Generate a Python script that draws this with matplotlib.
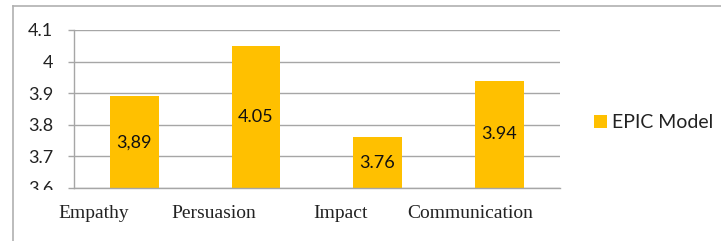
#!/usr/bin/python
import matplotlib
matplotlib.use('Agg')
import matplotlib.pyplot as plt
from matplotlib.patches import Rectangle
from matplotlib.lines import Line2D

#===============================
categories = ['Empathy', 'Persuasion', 'Impact', 'Communication']
values = [3.89, 4.05, 3.76, 3.94]
value_labels = ['3,89', '4.05', '3.76', '3.94']
yticks = [3.6, 3.7, 3.8, 3.9, 4.0, 4.1]
ytick_labels = ['3.6', '3.7', '3.8', '3.9', '4', '4.1']
series_name = 'EPIC Model'

#==================================
def DrawFig(filename):
  W, H = 721, 241
  fig = plt.figure(figsize=(W / 100.0, H / 100.0), dpi=100)
  ax = fig.add_axes([73.5 / W, 1 - 188.0 / H, (560 - 73.5) / W, (188.0 - 30) / H])

  gold = '#FFC000'
  grey = '#a6a6a6'
  x = range(len(categories))
  ax.bar(x, values, width=0.4, color=gold, zorder=2, label=series_name)
  ax.set_xlim(-0.5, len(categories) - 0.5)
  ax.set_ylim(yticks[0], yticks[-1])
  ax.set_yticks(yticks)
  ax.set_yticklabels(ytick_labels, family='Lato', fontsize=13, color='#222222')
  ax.set_xticks([])
  ax.yaxis.grid(True, color=grey, linewidth=1.0, zorder=0)
  ax.tick_params(axis='y', length=4.5, color=grey, width=1.0, pad=10)
  for s in ['top', 'right']:
    ax.spines[s].set_visible(False)
  for s in ['left', 'bottom']:
    ax.spines[s].set_color(grey)
    ax.spines[s].set_linewidth(1.0)

  # labels centred in the bars
  for i, v in enumerate(values):
    ax.text(i, (yticks[0] + v) / 2.0, value_labels[i], ha='center', va='center',
            family='Lato', fontsize=13, color='#111111', zorder=3)

  # white strip clipping the bottom tick label
  fig.patches.append(Rectangle((14.0 / W, 0), 56.0 / W, (H - 190.0) / H,
                               transform=fig.transFigure, facecolor='white',
                               edgecolor='none', zorder=5))

  # category names pasted below in a serif face
  xl = [94, 214, 341, 470]
  for name, px in zip(categories, xl):
    fig.text(px / float(W), 1 - 213.0 / H, name, ha='center', va='center',
             family='Liberation Serif', fontsize=14, color='#222222', zorder=6)

  # legend
  leg = fig.legend(loc='center left', bbox_to_anchor=(594.0 / W, 1 - 123.0 / H),
                   frameon=False, handlelength=0.65, handleheight=0.65,
                   handletextpad=0.3, borderpad=0, borderaxespad=0,
                   prop={'family': 'Lato', 'size': 14})
  for t in leg.get_texts():
    t.set_color('#222222')

  # outer frame (top and left edges)
  fig.lines.append(Line2D([12.5 / W, 1.0], [1 - 5.5 / H, 1 - 5.5 / H],
                          transform=fig.transFigure, color='#b0b0b0', linewidth=1.2))
  fig.lines.append(Line2D([12.5 / W, 12.5 / W], [0, 1 - 5.5 / H],
                          transform=fig.transFigure, color='#b0b0b0', linewidth=1.2))

  plt.savefig(filename, dpi=100)
  return

#==================================
def main():
  DrawFig('out.png')
  return

# -------------------------------
if __name__ == '__main__':
  main()
